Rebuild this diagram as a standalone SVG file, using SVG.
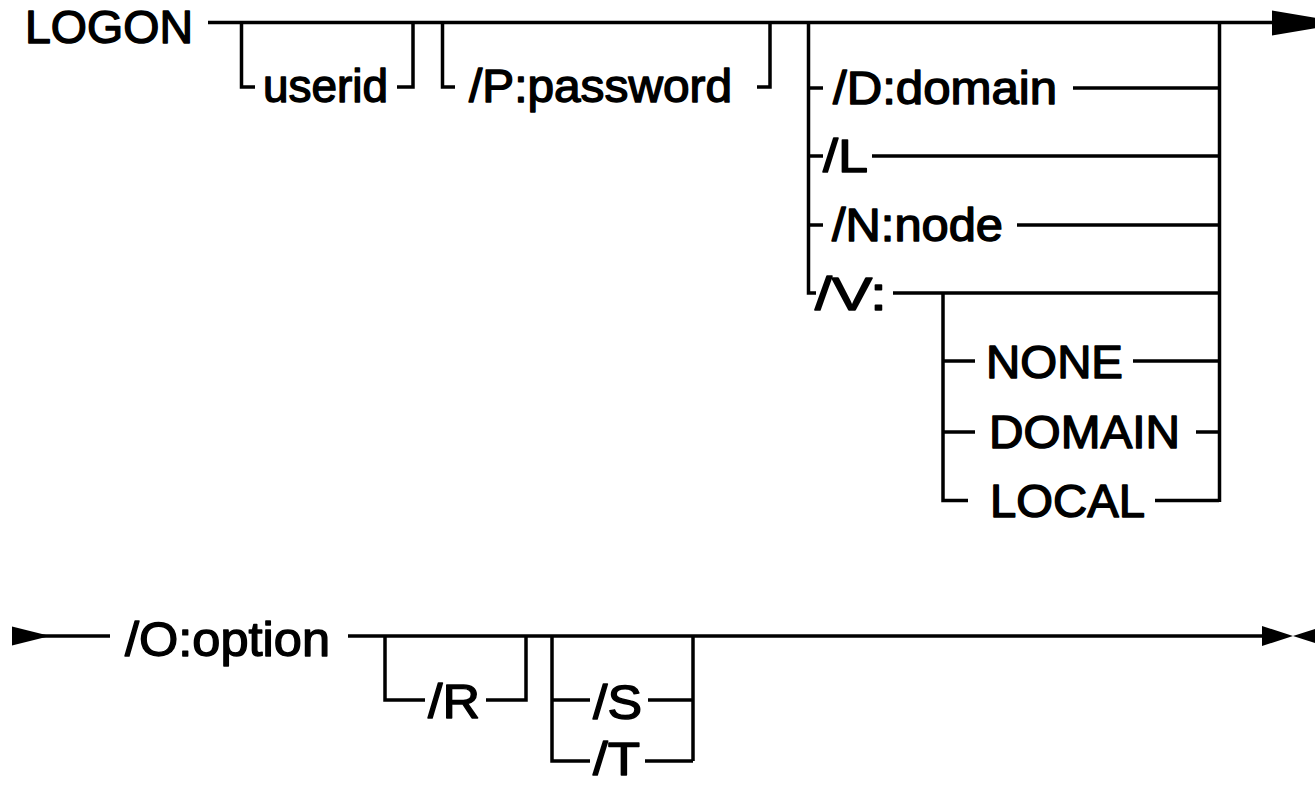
<svg xmlns="http://www.w3.org/2000/svg" width="1315" height="786" viewBox="0 0 1315 786">
<style>
  .ln{fill:none;stroke:#000;stroke-width:3.5;stroke-linecap:butt;stroke-linejoin:miter}
  .ah{fill:#000;stroke:none}
  .t{font-family:"Liberation Sans",Arial,Helvetica,sans-serif;font-size:46px;fill:#000;stroke:#000;stroke-width:1.4;stroke-linejoin:round}
  .tb{font-family:"Liberation Sans",Arial,Helvetica,sans-serif;font-size:49px;fill:#000;stroke:#000;stroke-width:1.4;stroke-linejoin:round}
</style>
<rect width="1315" height="786" fill="#fff"/>
<g id="connectors">
  <path class="ln" d="M208,22.5 H1275"/>
  <polygon class="ah" points="1272,10.5 1345,23 1272,35.5"/>
  <path class="ln" d="M241.5,22.5 V87 H255"/>
  <path class="ln" d="M397,87 H413 V22.5"/>
  <path class="ln" d="M442.5,22.5 V87 H455"/>
  <path class="ln" d="M757,87 H770 V22.5"/>
  <path class="ln" d="M808.5,22.5 V293 H816"/>
  <path class="ln" d="M808.5,88 H823"/>
  <path class="ln" d="M808.5,156 H823"/>
  <path class="ln" d="M808.5,225 H823"/>
  <path class="ln" d="M1073,88 H1219"/>
  <path class="ln" d="M872,156 H1219"/>
  <path class="ln" d="M1017,225 H1219"/>
  <path class="ln" d="M893,293 H1219"/>
  <path class="ln" d="M1219.5,22.5 V502"/>
  <path class="ln" d="M943,293 V500.5 H968"/>
  <path class="ln" d="M943,361 H975"/>
  <path class="ln" d="M943,432 H975"/>
  <path class="ln" d="M1133,361 H1219"/>
  <path class="ln" d="M1196,432 H1219"/>
  <path class="ln" d="M1155,500.5 H1219"/>
  <polygon class="ah" points="12,626.5 50,636 12,645.5"/>
  <path class="ln" d="M12,636 H110"/>
  <path class="ln" d="M348,636 H1264"/>
  <polygon class="ah" points="1262,626 1293,636 1262,646"/>
  <polygon class="ah" points="1324,626 1293,636 1324,646"/>
  <path class="ln" d="M385,636 V700 H425"/>
  <path class="ln" d="M486,700 H526 V636"/>
  <path class="ln" d="M552,636 V761 H590"/>
  <path class="ln" d="M552,700 H590"/>
  <path class="ln" d="M648,700 H693"/>
  <path class="ln" d="M645,761 H693"/>
  <path class="ln" d="M693,636 V761"/>
</g>
<g id="n-logon"><text class="t" x="25" y="43" textLength="168" lengthAdjust="spacingAndGlyphs">LOGON</text></g>
<g id="n-userid"><text class="t" x="263" y="102" textLength="125" lengthAdjust="spacingAndGlyphs">userid</text></g>
<g id="n-password"><text class="t" x="469" y="102" textLength="263" lengthAdjust="spacingAndGlyphs">/P:password</text></g>
<g id="n-domain"><text class="t" x="833" y="104" textLength="224" lengthAdjust="spacingAndGlyphs">/D:domain</text></g>
<g id="n-l"><text class="t" x="823" y="172" textLength="45" lengthAdjust="spacingAndGlyphs">/L</text></g>
<g id="n-node"><text class="t" x="832" y="241" textLength="171" lengthAdjust="spacingAndGlyphs">/N:node</text></g>
<g id="n-v"><text class="t" x="815" y="310" textLength="72" lengthAdjust="spacingAndGlyphs">/V:</text></g>
<g id="n-none"><text class="t" x="986" y="378" textLength="137" lengthAdjust="spacingAndGlyphs">NONE</text></g>
<g id="n-domainv"><text class="t" x="989" y="448" textLength="191" lengthAdjust="spacingAndGlyphs">DOMAIN</text></g>
<g id="n-local"><text class="t" x="990" y="517" textLength="155" lengthAdjust="spacingAndGlyphs">LOCAL</text></g>
<g id="n-option"><text class="tb" x="125" y="656" textLength="205" lengthAdjust="spacingAndGlyphs">/O:option</text></g>
<g id="n-r"><text class="tb" x="428" y="718" textLength="52" lengthAdjust="spacingAndGlyphs">/R</text></g>
<g id="n-s"><text class="tb" x="593" y="719" textLength="49" lengthAdjust="spacingAndGlyphs">/S</text></g>
<g id="n-t"><text class="tb" x="593" y="775" style="font-size:47px" textLength="47" lengthAdjust="spacingAndGlyphs">/T</text></g>
</svg>
